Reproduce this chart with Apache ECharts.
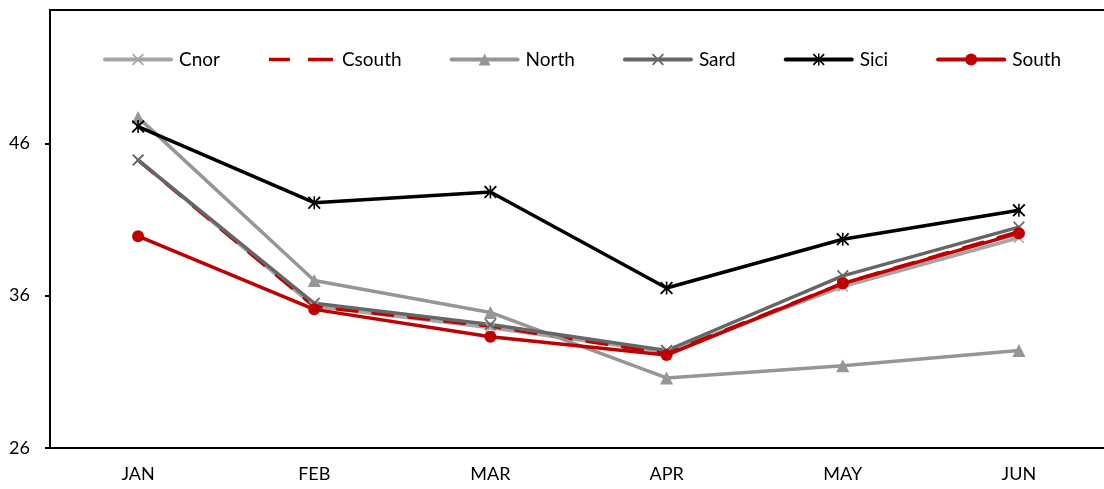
<!DOCTYPE html>
<html>
<head>
<meta charset="utf-8">
<script src="https://cdn.jsdelivr.net/npm/echarts@6/dist/echarts.min.js"></script>
<style>
  html, body { margin: 0; padding: 0; background: #fff; }
  #main { width: 1104px; height: 489px; }
</style>
</head>
<body>
<div id="main"></div>
<script>
// data
var months = ['JAN', 'FEB', 'MAR', 'APR', 'MAY', 'JUN'];
var cnor   = [44.9, 35.3, 33.9, 32.3, 36.6, 39.8];
var csouth = [44.9, 35.3, 34.0, 32.2, 36.8, 40.2];
var north  = [47.7, 37.0, 34.9, 30.6, 31.4, 32.4];
var sard   = [44.9, 35.5, 34.1, 32.4, 37.3, 40.5];
var sici   = [47.1, 42.1, 42.8, 36.5, 39.7, 41.6];
var south  = [39.9, 35.1, 33.3, 32.1, 36.8, 40.1];
var yTicks = [26, 36, 46];

// marker shapes
var crossPath = 'path://M0,1L1,0L5,4L9,0L10,1L6,5L10,9L9,10L5,6L1,10L0,9L4,5Z';
var starPath = 'path://M0,1L1,0L5,4L9,0L10,1L6,5L10,9L9,10L5,6L1,10L0,9L4,5Z M4.4,0L5.6,0L5.6,10L4.4,10Z';
// two dashes for the dashed series in the legend (corner dots keep the box 66x15)
var dashIcon = 'path://M0,0L0.01,0L0,0.01Z M66,15L65.99,15L66,14.99Z ' +
  'M1,5.7L22,5.7L22,9.3L1,9.3Z M40,5.7L65,5.7L65,9.3L40,9.3Z';

var font = 'Lato';

function lineSeries(name, data, color, symbol, size, dash) {
  return {
    name: name,
    type: 'line',
    data: data,
    symbol: symbol,
    symbolSize: size,
    showSymbol: symbol !== 'none',
    lineStyle: { color: color, width: 3.5, type: dash || 'solid', cap: 'round', join: 'round' },
    itemStyle: { color: color },
    emphasis: { disabled: true },
    animation: false
  };
}

var chart = echarts.init(document.getElementById('main'));
var option = {
  backgroundColor: '#fff',
  textStyle: { fontFamily: font },
  legend: {
    left: 103,
    top: 50,
    padding: 0,
    itemWidth: 66,
    itemHeight: 15,
    itemGap: 48,
    lineStyle: { width: 4 },
    textStyle: { fontFamily: font, fontSize: 19, color: '#000', padding: [0, 0, 0, 3] },
    data: ['Cnor', { name: 'Csouth', icon: dashIcon }, 'North', 'Sard', 'Sici', 'South']
  },
  grid: {
    left: 50, top: 10, width: 1057, height: 438,
    outerBoundsMode: 'none',
    show: true, borderColor: '#000', borderWidth: 2, backgroundColor: 'transparent'
  },
  xAxis: {
    type: 'category',
    data: months,
    boundaryGap: true,
    axisLine: { lineStyle: { color: '#000', width: 2 } },
    axisTick: { show: false },
    axisLabel: { color: '#000', fontSize: 18, fontFamily: font, margin: 17 }
  },
  yAxis: {
    type: 'value',
    min: 26,
    max: 54.75,
    interval: 10,
    axisLine: { show: true, lineStyle: { color: '#000', width: 2 } },
    axisTick: { show: true, length: 5, lineStyle: { color: '#000', width: 2 }, customValues: yTicks },
    axisLabel: { color: '#000', fontSize: 18, fontFamily: font, margin: 20, customValues: yTicks },
    splitLine: { show: false }
  },
  series: [
    lineSeries('Cnor', cnor, '#A6A6A6', crossPath, 11),
    lineSeries('Csouth', csouth, '#C00000', 'none', 0, [20, 16]),
    lineSeries('North', north, '#969696', 'triangle', 13),
    lineSeries('Sard', sard, '#666666', crossPath, 12),
    lineSeries('Sici', sici, '#000000', starPath, 13),
    lineSeries('South', south, '#C00000', 'circle', 12)
  ]
};
chart.setOption(option);
</script>
</body>
</html>
